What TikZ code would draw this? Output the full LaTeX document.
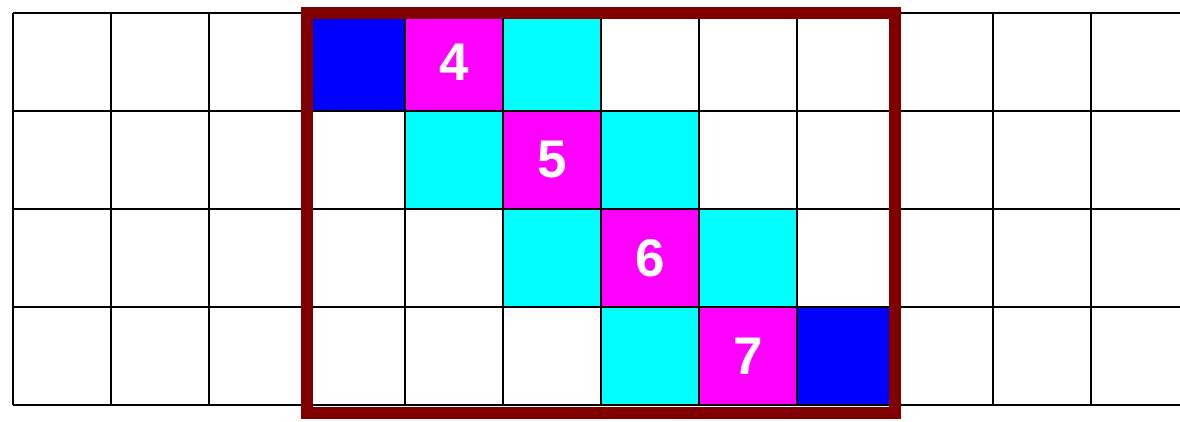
\documentclass[tikz,border=0pt]{standalone}
\usepackage{fontspec}
\setmainfont{Liberation Sans}
\definecolor{boxred}{HTML}{800000}
\definecolor{cellblue}{HTML}{0000FF}
\definecolor{cellcyan}{HTML}{00FFFF}
\definecolor{cellmag}{HTML}{FF00FF}
\tikzset{
  cell/.style={minimum width=98pt,minimum height=98pt,inner sep=0pt,outer sep=0pt,anchor=north west,draw=none},
  bluecell/.style={cell,fill=cellblue},
  cyancell/.style={cell,fill=cellcyan},
  magcell/.style={cell,fill=cellmag,text=white,font=\fontsize{53}{60}\selectfont\bfseries},
  gridline/.style={line width=1.8pt,black},
  redbox/.style={line width=12.5pt,draw=boxred}
}
\begin{document}
\begin{tikzpicture}[x=1pt,y=-1pt]
\useasboundingbox (0,0) rectangle (1180,421);
% colored cells (col k at x=13+98k, row r at y=13+98r)
\node[bluecell] (b1) at (307,13) {};
\node[magcell] (m4) at (405,13) {4};
\node[cyancell] (c1) at (503,13) {};
\node[cyancell] (c2) at (405,111) {};
\node[magcell] (m5) at (503,111) {5};
\node[cyancell] (c3) at (601,111) {};
\node[cyancell] (c4) at (503,209) {};
\node[magcell] (m6) at (601,209) {6};
\node[cyancell] (c5) at (699,209) {};
\node[cyancell] (c6) at (601,307) {};
\node[magcell] (m7) at (699,307) {7};
\node[bluecell] (b2) at (797,307) {};
% grid
\foreach \i in {0,...,11} {
  \draw[gridline] (13+98*\i,13) -- (13+98*\i,405);
}
\foreach \j in {0,...,4} {
  \draw[gridline] (13,13+98*\j) -- (1185,13+98*\j);
}
% red frame
\draw[redbox] (307,13) rectangle (895,413);
\end{tikzpicture}
\end{document}
